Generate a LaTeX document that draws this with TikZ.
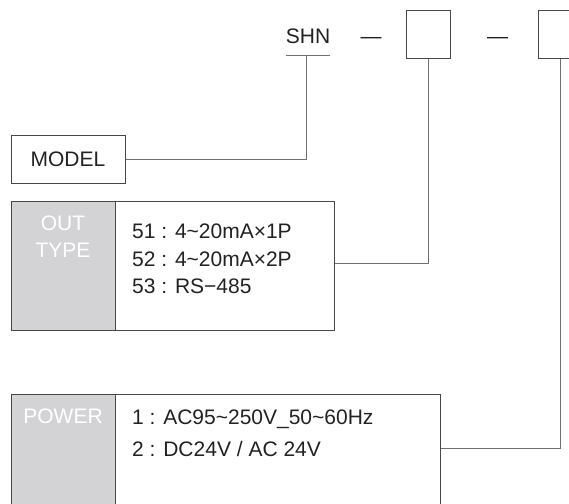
\documentclass[tikz,border=0pt]{standalone}
\usepackage{fontspec}
\setmainfont{Liberation Sans}
\definecolor{lineg}{HTML}{707070}
\definecolor{boxg}{HTML}{474747}
\definecolor{fillg}{HTML}{D3D3D5}
\definecolor{txt}{HTML}{222222}
\begin{document}
\begin{tikzpicture}[x=1pt,y=-1pt,
  lbl/.style={inner sep=0pt,text height=15pt,text depth=0pt,font=\fontsize{21}{25}\selectfont,text=txt},
  wlbl/.style={lbl,text=white},
  conn/.style={draw=lineg,line width=1pt},
  bx/.style={draw=boxg,line width=1pt}]
\useasboundingbox (0,0) rectangle (569,503);
\begin{scope}
\clip (0,0) rectangle (569,503);
% top code
\node[lbl] (shn) at (308,36) {SHN};
\coordinate (ul1) at (286,55);
\coordinate (ul2) at (330,55);
\coordinate (shnu) at (306,55);
\draw[conn] (ul1) -- (ul2);
\node[lbl] (d1) at (371,36) {—};
\node[lbl] (d2) at (497.5,36) {—};
\node[bx,minimum width=44pt,minimum height=47pt,inner sep=0pt] (box1) at (428,34.5) {};
\node[bx,minimum width=44pt,minimum height=47pt,inner sep=0pt] (box2) at (560,34.5) {};
% model
\node[bx,minimum width=114pt,minimum height=48pt,inner sep=0pt] (model) at (68,159) {};
\node[lbl] (modeltxt) at (model.center) {MODEL};
% out type
\node[bx,fill=fillg,minimum width=104pt,minimum height=129pt,inner sep=0pt] (outg) at (63,265.5) {};
\node[bx,minimum width=219pt,minimum height=129pt,inner sep=0pt] (outw) at (224.5,265.5) {};
\node[wlbl] (out1) at (63,223) {OUT};
\node[wlbl] (out2) at (63,250) {TYPE};
\node[lbl,anchor=west] (o51) at (132,231) {51 : 4\char"007E 20mA×1P};
\node[lbl,anchor=west] (o52) at (132,259) {52 : 4\char"007E 20mA×2P};
\node[lbl,anchor=west] (o53) at (132,286) {53 : RS−485};
% power
\node[bx,fill=fillg,minimum width=104pt,minimum height=140pt,inner sep=0pt] (pg) at (63,464) {};
\node[bx,minimum width=325pt,minimum height=140pt,inner sep=0pt] (pw) at (277.5,464) {};
\node[wlbl] (ptxt) at (63,416) {POWER};
\node[lbl,anchor=west] (p1) at (132,417) {1 : AC95\char"007E 250V\_50\char"007E 60Hz};
\node[lbl,anchor=west] (p2) at (132,449) {2 : DC24V / AC 24V};
\coordinate (pc) at ([yshift=-55pt]pw.north east);
% connectors
\draw[conn] (shnu) |- (model.east);
\draw[conn] (box1.south) |- ([yshift=2.5pt]outw.east);
\draw[conn] (box2.south) |- (pc);
\end{scope}
\end{tikzpicture}
\end{document}
